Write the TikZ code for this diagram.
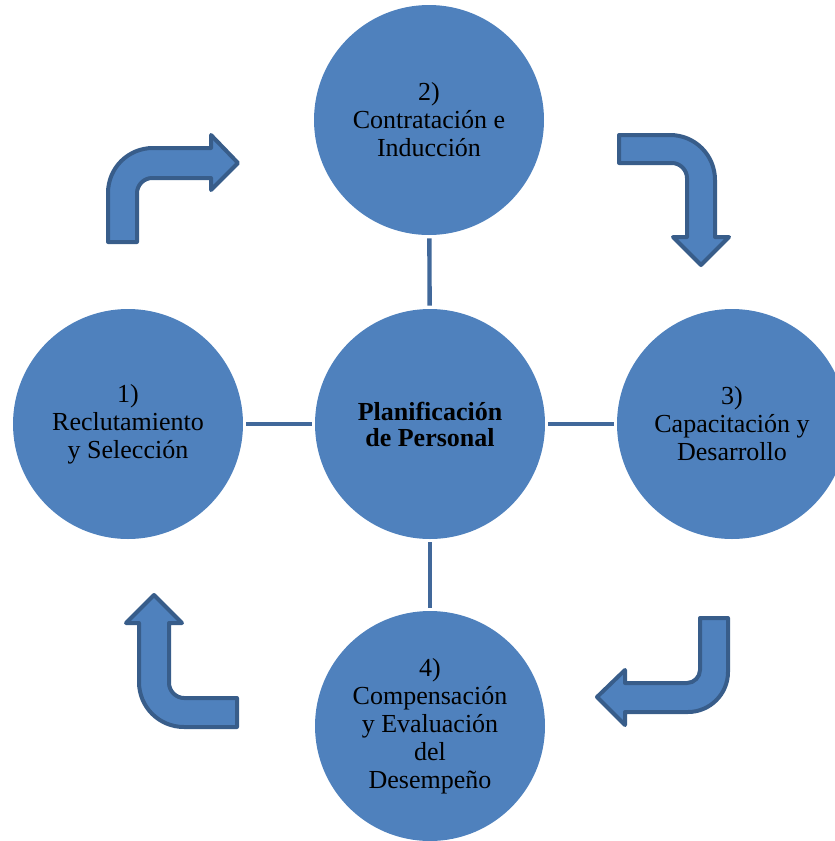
\documentclass[tikz,border=0pt]{standalone}
\usepackage{fontspec}
\setmainfont{Liberation Serif}
\usepackage{tikz}
\usetikzlibrary{positioning}
\definecolor{circfill}{RGB}{79,129,189}
\definecolor{arrowline}{RGB}{56,93,138}
\definecolor{linkcol}{RGB}{65,104,154}
\tikzset{
  stage/.style={circle,fill=circfill,draw=none,minimum size=115pt,inner sep=0pt,
                align=center,font=\fontsize{13pt}{14pt}\selectfont},
  hub/.style={stage,font=\fontsize{13pt}{13pt}\selectfont\bfseries},
  link/.style={draw=linkcol,line width=2.2pt,shorten <=1.5pt,shorten >=1.5pt},
  bent/.style={fill=circfill,draw=arrowline,line width=2pt,line join=round},
}
\begin{document}
\begin{tikzpicture}[x=0.5pt,y=-0.5pt]
  \useasboundingbox (0,0) rectangle (835,841);
  % stages
  \node[hub] (plan) at (430,424) {Planificación\\de Personal};
  \node[stage] (rec) at (128,424) {1)\\Reclutamiento\\y Selección};
  \node[stage] (con) at (429,120) {2)\\Contratación e\\Inducción};
  \node[stage] (cap) at (732,424) {3)\\Capacitación y\\Desarrollo};
  \node[stage] (com) at (430,726) {4)\\Compensación\\y Evaluación\\del\\Desempeño};
  % links to the hub
  \foreach \t in {rec,con,cap,com}
    {\draw[link] (plan) -- (\t);}
  % bent arrows
  \draw[bent] (108,242) -- (108,193) .. controls (108,168) and (128,148) .. (153,148)
    -- (211,148) -- (211,135) -- (238,163) -- (211,190) -- (211,178) -- (152,178)
    .. controls (144,178) and (137,185) .. (137,193) -- (137,242) -- cycle;
  \draw[bent] (619,135) -- (670,135) .. controls (695,135) and (715,155) .. (715,180)
    -- (715,237) -- (729,237) -- (701,265) -- (673,237) -- (687,237) -- (687,178)
    .. controls (687,170) and (680,163) .. (672,163) -- (619,163) -- cycle;
  \draw[bent] (700,618) -- (728,618) -- (728,672) .. controls (728,694) and (710,712) .. (688,712)
    -- (625,712) -- (625,725) -- (597,697) -- (625,670) -- (625,683) -- (687,683)
    .. controls (694,683) and (700,677) .. (700,670) -- cycle;
  \draw[bent] (237,698) -- (237,727) -- (184,727) .. controls (159,727) and (139,707) .. (139,682)
    -- (139,623) -- (126,623) -- (154,595) -- (182,623) -- (169,623) -- (169,683)
    .. controls (169,691) and (176,698) .. (184,698) -- cycle;
\end{tikzpicture}
\end{document}
